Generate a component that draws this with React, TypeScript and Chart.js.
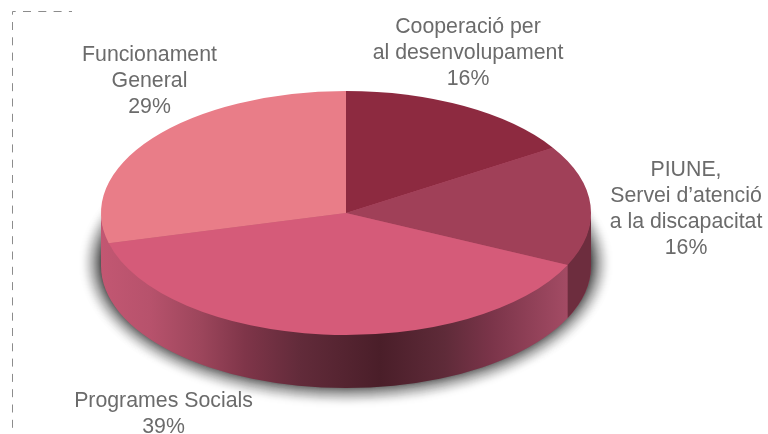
import React, { useEffect, useRef } from "react";
import { Chart, registerables } from "chart.js";

Chart.register(...registerables);

// ---- data ----
const categories = ["Cooperació per al desenvolupament", "PIUNE, Servei d’atenció a la discapacitat", "Programes Socials", "Funcionament General"];
const shares = [16, 16, 39, 29];
const sliceColors = ["#8d2a40", "#a04058", "#d55b79", "#e97d88"];
const labelLines = [
  ["Cooperació per", "al desenvolupament", "16%"],
  ["PIUNE,", "Servei d’atenció", "a la discapacitat", "16%"],
  ["Programes Socials", "39%"],
  ["Funcionament", "General", "29%"],
];

// ---- layout ----
const W = 768;
const H = 434;
const CX = 346;
const CY = 213;
const RX = 245;
const RY = 122;
const DEPTH = 53;
const labelAnchors = [
  { x: 468, y: 27.5 },
  { x: 686, y: 170.5 },
  { x: 163.5, y: 401.5 },
  { x: 149.5, y: 55.5 },
];
const LINE_H = 25.8;

const wallStops: [number, string][] = [
  [101, "#c25772"],
  [150, "#b7526c"],
  [200, "#9d465c"],
  [245, "#7f3549"],
  [300, "#622b3a"],
  [380, "#4a1e29"],
  [445, "#5f2b39"],
  [490, "#7a3449"],
  [567, "#a34b64"],
];
const wallFlat = ["#8d2a40", "#6d2d3e", null, null];

function wallPath(ctx: any, a: number, b: number) {
  ctx.beginPath();
  ctx.ellipse(CX, CY - 1.5, RX, RY, 0, a, b);
  ctx.ellipse(CX, CY + DEPTH, RX, RY, 0, b, a, true);
  ctx.closePath();
}

const pie3d = {
  id: "pie3d",
  beforeDraw(chart: any) {
    const ctx = chart.ctx;
    ctx.save();
    ctx.strokeStyle = "#8c8c8c";
    ctx.lineWidth = 1;
    ctx.setLineDash([8, 7.3]);
    ctx.lineDashOffset = 4.8;
    ctx.beginPath();
    ctx.moveTo(12.5, 11.5);
    ctx.lineTo(72, 11.5);
    ctx.stroke();
    ctx.beginPath();
    ctx.moveTo(12.5, 11.5);
    ctx.lineTo(12.5, 434);
    ctx.stroke();
    ctx.restore();
  },
  beforeDatasetsDraw(chart: any) {
    const ctx = chart.ctx;
    // cast shadow: stacked translucent ellipses with a soft falloff
    ctx.save();
    const SPREAD = 25;
    const PEAK = 0.85;
    const cover = (k: number) => (k >= SPREAD ? 0 : PEAK * Math.pow(1 - k / SPREAD, 1.8));
    for (let k = SPREAD - 1; k >= 0; k--) {
      const alpha = 1 - (1 - cover(k)) / (1 - cover(k + 1));
      ctx.fillStyle = `rgba(30,30,30,${alpha.toFixed(4)})`;
      ctx.beginPath();
      ctx.ellipse(CX, CY + DEPTH - 3, RX - 1 + k, RY + k, 0, 0, Math.PI * 2);
      ctx.fill();
    }
    ctx.restore();

    // side walls
    const grad = ctx.createLinearGradient(101, 0, 567, 0);
    wallStops.forEach(([x, c]) => grad.addColorStop((x - 101) / (567 - 101), c));
    ctx.save();
    ctx.fillStyle = grad;
    wallPath(ctx, 0, Math.PI);
    ctx.fill();
    const arcs = chart.getDatasetMeta(0).data;
    arcs.forEach((arc: any, i: number) => {
      const a = Math.max(arc.startAngle, 0);
      const b = Math.min(arc.endAngle, Math.PI);
      if (b <= a || !wallFlat[i]) return;
      ctx.fillStyle = wallFlat[i];
      wallPath(ctx, a, b);
      ctx.fill();
    });
    // soft base under the slices, so their seams stay faint
    ctx.fillStyle = "#b5506a";
    ctx.beginPath();
    ctx.ellipse(CX, CY, RX - 1, RY - 1, 0, 0, Math.PI * 2);
    ctx.fill();
    ctx.restore();

    // squash the library's round pie into the top ellipse
    ctx.save();
    ctx.translate(CX, CY);
    ctx.scale(RX / RY, 1);
    ctx.translate(-CX, -CY);
  },
  afterDatasetsDraw(chart: any) {
    const ctx = chart.ctx;
    ctx.restore();
    ctx.save();
    ctx.fillStyle = "#6b6b6b";
    ctx.font = "21.3px 'Liberation Sans', Arial, sans-serif";
    ctx.textAlign = "center";
    ctx.textBaseline = "middle";
    labelLines.forEach((lines, i) => {
      lines.forEach((t, j) => ctx.fillText(t, labelAnchors[i].x, labelAnchors[i].y + j * LINE_H));
    });
    ctx.restore();
  },
};

export default function App() {
  const ref = useRef<HTMLCanvasElement>(null);
  useEffect(() => {
    const chart = new Chart(ref.current!, {
      type: "pie",
      data: {
        labels: categories,
        datasets: [{ data: shares, backgroundColor: sliceColors, borderWidth: 0 }],
      },
      options: {
        animation: false,
        responsive: false,
        devicePixelRatio: 1,
        layout: {
          padding: { left: CX - RY, right: W - CX - RY, top: CY - RY, bottom: H - CY - RY },
        },
        plugins: { legend: { display: false }, tooltip: { enabled: false } },
      },
      plugins: [pie3d],
    } as any);
    return () => chart.destroy();
  }, []);
  return (
    <div style={{ position: "absolute", left: 0, top: 0, width: W, height: H, background: "#fff", overflow: "hidden" }}>
      <canvas ref={ref} width={W} height={H} style={{ display: "block" }} />
    </div>
  );
}
